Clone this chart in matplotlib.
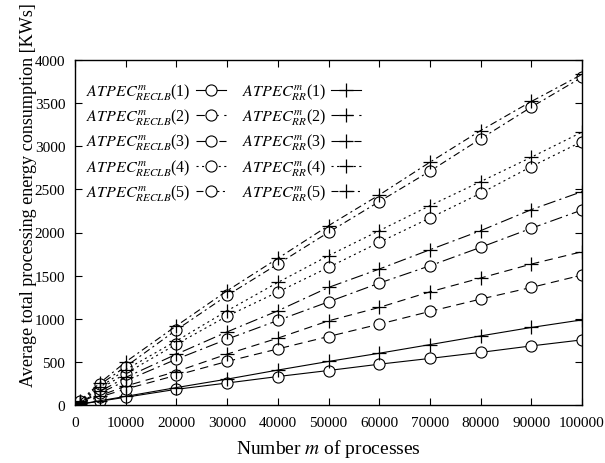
import matplotlib
matplotlib.use('Agg')
import matplotlib.pyplot as plt

plt.rcParams['font.family'] = 'serif'
plt.rcParams['font.serif'] = ['Liberation Serif', 'DejaVu Serif']
plt.rcParams['mathtext.fontset'] = 'stix'
plt.rcParams['lines.scale_dashes'] = False

# number of processes m
m = [1000, 5000, 10000, 20000, 30000, 40000, 50000, 60000, 70000, 80000, 90000, 100000]

# ATPEC^m_RECLB(n), n = 1..5
reclb1 = [9, 45, 90, 182, 255, 330, 400, 473, 540, 610, 685, 755]
reclb2 = [19, 95, 185, 345, 505, 650, 794, 937, 1085, 1228, 1363, 1506]
reclb3 = [28, 140, 280, 531, 763, 980, 1196, 1413, 1614, 1828, 2049, 2261]
reclb4 = [37, 190, 365, 705, 1030, 1310, 1596, 1886, 2168, 2455, 2764, 3055]
reclb5 = [45, 240, 445, 871, 1270, 1634, 2002, 2358, 2711, 3086, 3454, 3800]

# ATPEC^m_RR(n), n = 1..5
rr1 = [10, 50, 100, 202, 300, 405, 505, 600, 700, 801, 899, 987]
rr2 = [22, 110, 220, 388, 590, 775, 976, 1131, 1312, 1472, 1634, 1777]
rr3 = [32, 160, 320, 589, 848, 1092, 1363, 1576, 1800, 2021, 2265, 2474]
rr4 = [40, 210, 410, 743, 1092, 1421, 1731, 2021, 2311, 2590, 2873, 3164]
rr5 = [50, 260, 500, 918, 1324, 1700, 2079, 2435, 2815, 3182, 3519, 3833]

reclb = [reclb1, reclb2, reclb3, reclb4, reclb5]
rr = [rr1, rr2, rr3, rr4, rr5]
styles = ['-', (0, (6, 4)), (0, (9, 3, 1.5, 3)), (0, (1.5, 2.5)), (0, (5, 2.5, 1.5, 2.5))]

fig = plt.figure(figsize=(6.05, 4.64), dpi=100)
ax = fig.add_axes([75 / 605, 1 - 406 / 464, 507 / 605, 345 / 464])

handles = []
for i, ys in enumerate(reclb):
    h, = ax.plot(m, ys, linestyle=styles[i], color='black', linewidth=0.8,
                 marker='o', markersize=8, markerfacecolor='white',
                 markeredgecolor='black', markeredgewidth=0.8,
                 label=r'$ATPEC^{m}_{RECLB}$(%d)' % (i + 1))
    handles.append(h)
for i, ys in enumerate(rr):
    h, = ax.plot(m, ys, linestyle=styles[i], color='black', linewidth=0.8,
                 marker='+', markersize=9.5, markeredgewidth=0.9,
                 label=r'$ATPEC^{m}_{RR}$(%d)' % (i + 1))
    handles.append(h)

ax.set_xlim(0, 100000)
ax.set_ylim(0, 4000)
ax.set_xticks(range(0, 100001, 10000))
ax.set_yticks(range(0, 4001, 500))
ax.tick_params(direction='in', top=True, right=True, labelsize=11, length=5)
ax.tick_params(axis='x', pad=8)
ax.tick_params(axis='y', pad=7)
for s in ax.spines.values():
    s.set_linewidth(1.0)

ax.set_xlabel(r'Number $m$ of processes', fontsize=14, labelpad=6)
ax.set_ylabel('Average total processing energy consumption [KWs]', fontsize=13.1)
ax.yaxis.set_label_coords(-0.074, 0.612)

ax.legend(handles=handles, loc='upper left', ncol=2, frameon=False,
          markerfirst=False, fontsize=11.5, handlelength=1.9, handletextpad=0.3,
          labelspacing=0.32, columnspacing=1.0, borderaxespad=0.3,
          bbox_to_anchor=(0.0, 0.97))

fig.savefig('out.png', dpi=100)
